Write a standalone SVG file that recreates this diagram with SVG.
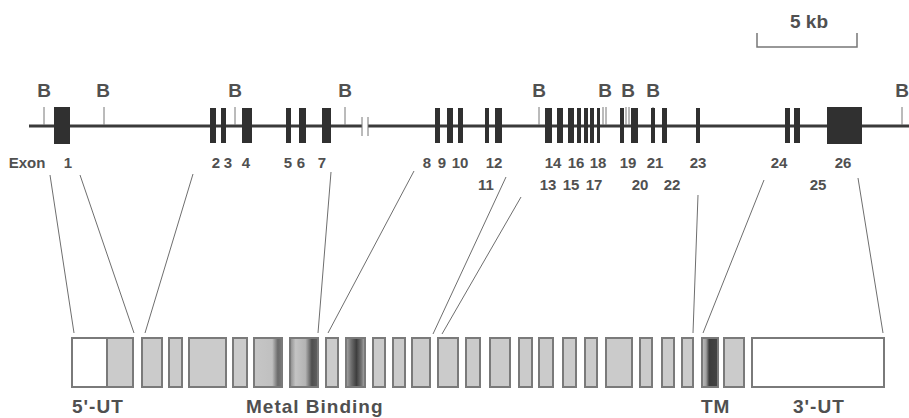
<svg xmlns="http://www.w3.org/2000/svg" width="909" height="418" viewBox="0 0 909 418">
  <style>
    .lbl { font-family: "Liberation Sans", Arial, sans-serif; font-weight: bold; fill: #505050; }
    .b { font-size: 19px; }
    .num { font-size: 15px; }
    .big { font-size: 19px; letter-spacing: 1px; }
    .axis { stroke: #3a3a3a; stroke-width: 3; fill: none; }
    .tick { stroke: #777; stroke-width: 1; }
    .exon { fill: #303030; }
    .box { stroke: #7a7a7a; stroke-width: 2; fill: #cbcbcb; }
    .utr { stroke: #7a7a7a; stroke-width: 2; fill: #ffffff; }
    .conn { stroke: #6e6e6e; stroke-width: 1; fill: none; }
    .scale { stroke: #777; stroke-width: 1.5; fill: none; }
  </style>
  <defs>
    <linearGradient id="shadeEdge" x1="0" y1="0" x2="1" y2="0">
      <stop offset="0" stop-color="#c6c6c6"/>
      <stop offset="0.65" stop-color="#c0c0c0"/>
      <stop offset="0.85" stop-color="#6a6a6a"/>
      <stop offset="1" stop-color="#7a7a7a"/>
    </linearGradient>
    <linearGradient id="shadeBand" x1="0" y1="0" x2="1" y2="0">
      <stop offset="0" stop-color="#8a8a8a"/>
      <stop offset="0.2" stop-color="#c4c4c4"/>
      <stop offset="0.55" stop-color="#b4b4b4"/>
      <stop offset="0.78" stop-color="#4e4e4e"/>
      <stop offset="0.95" stop-color="#5e5e5e"/>
      <stop offset="1" stop-color="#888"/>
    </linearGradient>
    <linearGradient id="shadeMid" x1="0" y1="0" x2="1" y2="0">
      <stop offset="0" stop-color="#a8a8a8"/>
      <stop offset="0.3" stop-color="#6a6a6a"/>
      <stop offset="0.55" stop-color="#3e3e3e"/>
      <stop offset="0.8" stop-color="#707070"/>
      <stop offset="1" stop-color="#b0b0b0"/>
    </linearGradient>
    <linearGradient id="shadeTM" x1="0" y1="0" x2="1" y2="0">
      <stop offset="0" stop-color="#c0c0c0"/>
      <stop offset="0.25" stop-color="#a0a0a0"/>
      <stop offset="0.45" stop-color="#3c3c3c"/>
      <stop offset="1" stop-color="#444"/>
    </linearGradient>
  </defs>

  <!-- scale bar -->
  <g id="scale">
    <text class="lbl b" x="809" y="28" text-anchor="middle">5 kb</text>
    <path class="scale" d="M757,33 V47 H857 V33"/>
  </g>

  <!-- genomic map -->
  <g id="gene">
    <path class="axis" d="M29,126 H362 M368,126 H909"/>
    <path class="tick" d="M362,117 V136 M368,117 V136" stroke-width="1.5"/>
    <!-- BamHI sites -->
    <g id="bamhi">
      <path class="tick" d="M44,107 V125 M104,107 V125 M235,107 V125 M345,107 V125 M539,107 V125 M603,107 V125 M606,107 V125 M626,107 V125 M629,107 V125 M653,107 V125 M902,107 V125"/>
      <text class="lbl b" x="44" y="97" text-anchor="middle">B</text>
      <text class="lbl b" x="103" y="97" text-anchor="middle">B</text>
      <text class="lbl b" x="235" y="97" text-anchor="middle">B</text>
      <text class="lbl b" x="345" y="97" text-anchor="middle">B</text>
      <text class="lbl b" x="539" y="97" text-anchor="middle">B</text>
      <text class="lbl b" x="605" y="97" text-anchor="middle">B</text>
      <text class="lbl b" x="628" y="97" text-anchor="middle">B</text>
      <text class="lbl b" x="653" y="97" text-anchor="middle">B</text>
      <text class="lbl b" x="902" y="97" text-anchor="middle">B</text>
    </g>
    <!-- exons -->
    <g id="exons">
      <rect class="exon" x="54" y="107" width="16" height="37"/>
      <rect class="exon" x="210" y="108" width="6" height="35"/>
      <rect class="exon" x="221" y="108" width="5" height="35"/>
      <rect class="exon" x="242" y="108" width="10" height="35"/>
      <rect class="exon" x="286" y="108" width="5" height="35"/>
      <rect class="exon" x="299" y="108" width="7" height="35"/>
      <rect class="exon" x="322" y="108" width="9" height="35"/>
      <rect class="exon" x="435" y="108" width="5" height="35"/>
      <rect class="exon" x="447" y="108" width="6" height="35"/>
      <rect class="exon" x="458" y="108" width="5" height="35"/>
      <rect class="exon" x="485" y="108" width="4" height="35"/>
      <rect class="exon" x="495" y="108" width="7" height="35"/>
      <rect class="exon" x="545" y="108" width="7" height="35"/>
      <rect class="exon" x="557" y="108" width="6" height="35"/>
      <rect class="exon" x="568" y="108" width="6" height="35"/>
      <rect class="exon" x="577" y="108" width="4" height="35"/>
      <rect class="exon" x="584" y="108" width="4" height="35"/>
      <rect class="exon" x="590" y="108" width="4" height="35"/>
      <rect class="exon" x="597" y="108" width="3" height="35"/>
      <rect class="exon" x="620" y="108" width="4" height="35"/>
      <rect class="exon" x="631" y="108" width="7" height="35"/>
      <rect class="exon" x="651" y="108" width="4" height="35"/>
      <rect class="exon" x="662" y="108" width="5" height="35"/>
      <rect class="exon" x="696" y="108" width="4" height="35"/>
      <rect class="exon" x="785" y="108" width="5" height="35"/>
      <rect class="exon" x="794" y="108" width="6" height="35"/>
      <rect class="exon" x="827" y="107" width="35" height="37"/>
    </g>
    <!-- exon numbers -->
    <g id="exon-labels" class="lbl num" text-anchor="middle">
      <text x="27" y="168">Exon</text>
      <text x="68" y="168">1</text>
      <text x="216" y="168">2</text>
      <text x="228" y="168">3</text>
      <text x="246" y="168">4</text>
      <text x="288" y="168">5</text>
      <text x="301" y="168">6</text>
      <text x="322" y="168">7</text>
      <text x="427" y="168">8</text>
      <text x="442" y="168">9</text>
      <text x="460" y="168">10</text>
      <text x="494" y="168">12</text>
      <text x="553" y="168">14</text>
      <text x="576" y="168">16</text>
      <text x="598" y="168">18</text>
      <text x="628" y="168">19</text>
      <text x="655" y="168">21</text>
      <text x="698" y="168">23</text>
      <text x="779" y="168">24</text>
      <text x="843" y="168">26</text>
      <text x="486" y="190">11</text>
      <text x="548" y="190">13</text>
      <text x="571" y="190">15</text>
      <text x="594" y="190">17</text>
      <text x="640" y="190">20</text>
      <text x="672" y="190">22</text>
      <text x="818" y="190">25</text>
    </g>
  </g>

  <!-- connectors from exons to protein domains -->
  <g id="connectors" class="conn">
    <line x1="50" y1="175" x2="74" y2="333"/>
    <line x1="80" y1="175" x2="134" y2="333"/>
    <line x1="193" y1="174" x2="145" y2="333"/>
    <line x1="331" y1="172" x2="318" y2="333"/>
    <line x1="414" y1="171" x2="328" y2="333"/>
    <line x1="506" y1="177" x2="433" y2="334"/>
    <line x1="521" y1="197" x2="442" y2="334"/>
    <line x1="698" y1="195" x2="693" y2="333"/>
    <line x1="764" y1="180" x2="703" y2="333"/>
    <line x1="858" y1="178" x2="883" y2="333"/>
  </g>

  <!-- cDNA / protein blocks -->
  <g id="protein">
    <rect class="utr" x="72" y="338" width="35" height="49"/>
    <rect class="box" x="107" y="338" width="26" height="49"/>
    <rect class="box" x="142" y="338" width="20" height="49"/>
    <rect class="box" x="169" y="338" width="13" height="49"/>
    <rect class="box" x="189" y="338" width="37" height="49"/>
    <rect class="box" x="233" y="338" width="14" height="49"/>
    <rect class="box" x="254" y="338" width="28" height="49" style="fill:url(#shadeEdge)"/>
    <rect class="box" x="290" y="338" width="28" height="49" style="fill:url(#shadeBand)"/>
    <rect class="box" x="326" y="338" width="12" height="49"/>
    <rect class="box" x="346" y="338" width="19" height="49" style="fill:url(#shadeMid)"/>
    <rect class="box" x="373" y="338" width="12" height="49"/>
    <rect class="box" x="393" y="338" width="12" height="49"/>
    <rect class="box" x="412" y="338" width="18" height="49"/>
    <rect class="box" x="438" y="338" width="20" height="49"/>
    <rect class="box" x="466" y="338" width="14" height="49"/>
    <rect class="box" x="490" y="338" width="20" height="49"/>
    <rect class="box" x="519" y="338" width="13" height="49"/>
    <rect class="box" x="539" y="338" width="14" height="49"/>
    <rect class="box" x="563" y="338" width="13" height="49"/>
    <rect class="box" x="585" y="338" width="12" height="49"/>
    <rect class="box" x="606" y="338" width="26" height="49"/>
    <rect class="box" x="640" y="338" width="12" height="49"/>
    <rect class="box" x="662" y="338" width="12" height="49"/>
    <rect class="box" x="682" y="338" width="11" height="49"/>
    <rect class="box" x="702" y="338" width="16" height="49" style="fill:url(#shadeTM)"/>
    <rect class="box" x="724" y="338" width="20" height="49"/>
    <rect class="utr" x="752" y="338" width="132" height="49"/>
  </g>

  <!-- region labels -->
  <g id="regions" class="lbl big">
    <text x="72" y="413">5'-UT</text>
    <text x="246" y="413">Metal Binding</text>
    <text x="701" y="413">TM</text>
    <text x="793" y="413">3'-UT</text>
  </g>
</svg>
